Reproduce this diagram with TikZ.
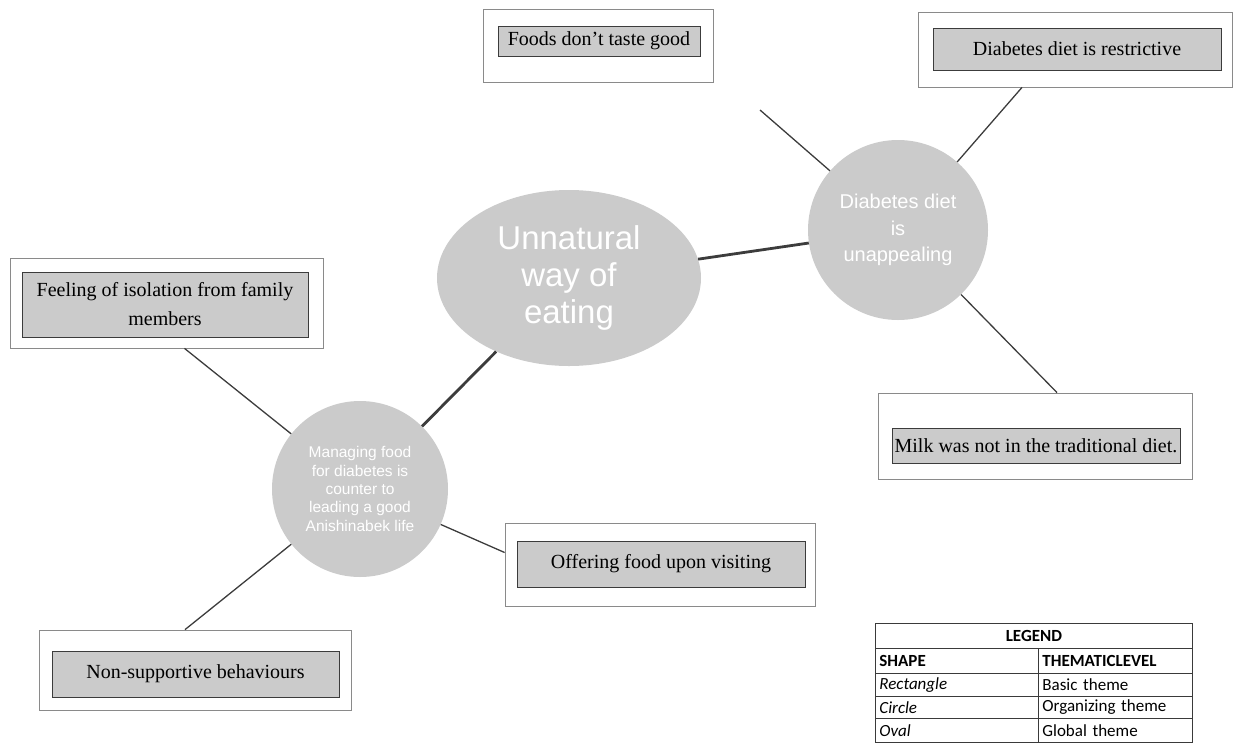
\documentclass[tikz,border=0pt]{standalone}
\usepackage{fontspec}
\setmainfont{Liberation Serif}
\newfontfamily\headsans{Liberation Sans}
\newfontfamily\keyfont{Carlito}
\usetikzlibrary{shapes.geometric,calc}
\definecolor{inkgray}{HTML}{3C3C3C}
\definecolor{stipple}{HTML}{CBCBCB}
\definecolor{framegray}{HTML}{8A8A8A}
\definecolor{rulegray}{HTML}{3A3A3A}

\begin{document}
\begin{tikzpicture}[x=1pt,y=-1pt,
  frame/.style 2 args={rectangle, draw=framegray, line width=0.8pt, fill=white,
    minimum width=#1pt, minimum height=#2pt, inner sep=0pt},
  basic/.style 2 args={rectangle, draw=inkgray, line width=0.9pt, fill=stipple,
    minimum width=#1pt, minimum height=#2pt, inner sep=0pt, align=center,
    font=\fontsize{20}{29}\selectfont},
  organizing/.style={circle, fill=stipple, minimum size=180pt, inner sep=0pt,
    align=center, text=white},
  global/.style={ellipse, fill=stipple, minimum width=264pt, minimum height=176pt,
    inner sep=0pt, align=center, text=white,
    font=\headsans\fontsize{33}{37}\selectfont},
  link/.style={draw=inkgray, line width=1.3pt},
  mainlink/.style={draw=inkgray, line width=2.8pt},
  keycell/.style 2 args={rectangle, draw=rulegray, line width=0.8pt, anchor=north west,
    minimum width=#1pt, minimum height=#2pt, inner ysep=0pt, inner xsep=4pt,
    text width=#1pt-8pt, align=left, font=\keyfont\fontsize{17}{18}\selectfont},
]
\useasboundingbox (0,0) rectangle (1234,745);

% ---- basic themes: framed rectangles ----
\node[frame={230}{73}] (foodsF) at (598,45.5) {};
\node[basic={202}{30}] (foods) at (599,41) {Foods don’t taste good};

\node[frame={314}{75}] (restrF) at (1075,49.5) {};
\node[basic={288}{42}] (restr) at (1077,49) {Diabetes diet is restrictive};

\node[frame={313}{90}] (isolF) at (166.5,303) {};
\node[basic={286}{65}] (isol) at (165,304.5) {Feeling of isolation from family\\members};

\node[frame={314}{86}] (milkF) at (1035,436) {};
\node[basic={288}{35}] (milk) at (1036,445.5) {Milk was not in the traditional diet.};

\node[frame={310}{83}] (offerF) at (660,564.5) {};
\node[basic={288}{46}] (offer) at (661,564) {Offering food upon visiting};

\node[frame={312}{80}] (nonsupF) at (195,670) {};
\node[basic={287}{46}] (nonsup) at (195.5,674) {Non-supportive behaviours};

% ---- organizing themes and the global theme ----
\node[organizing, font=\headsans\fontsize{20}{26.5}\selectfont] (unapp) at (898,230)
  {Diabetes diet\\is\\unappealing};
\node[organizing, minimum size=176pt, font=\headsans\fontsize{15.5}{18.3}\selectfont] (managing) at (360,489)
  {Managing food\\for diabetes is\\counter to\\leading a good\\Anishinabek life};
\node[global] (unnat) at (569,278) {Unnatural\\way of\\eating};

% ---- connectors ----
\coordinate (foodsEnd) at (760,110);

\draw[mainlink] (unnat) -- (unapp);
\draw[mainlink] (unnat) -- (managing);
\draw[link] (foodsEnd) -- (unapp);
\draw[link] ($(restrF.south)+(-53,0)$) -- (unapp);
\draw[link] (unapp) -- ($(milkF.north)+(22,0)$);
\draw[link] ($(isolF.south)+(18,0)$) -- (managing);
\draw[link] (managing) -- ($(offerF.west)+(0,-12)$);
\draw[link] ($(nonsupF.north)+(-10,0)$) -- (managing);

% ---- legend ----
\node[keycell={317}{25}, align=center] (lgHead) at (875,623) {\bfseries LEGEND};
\node[keycell={163}{25}] (lgShape) at (875,648) {\bfseries SHAPE};
\node[keycell={154}{25}] (lgLevel) at (1038,648) {\bfseries THEMATICLEVEL};
\node[keycell={163}{23}] (lgRect) at (875,673) {\itshape Rectangle};
\node[keycell={154}{23}] (lgBasic) at (1038,673) {Basic theme};
\node[keycell={163}{22}] (lgCirc) at (875,696) {\itshape Circle};
\node[keycell={154}{22}] (lgOrg) at (1038,696) {Organizing theme};
\node[keycell={163}{24}] (lgOval) at (875,718) {\itshape Oval};
\node[keycell={154}{24}] (lgGlob) at (1038,718) {Global theme};
\end{tikzpicture}
\end{document}
